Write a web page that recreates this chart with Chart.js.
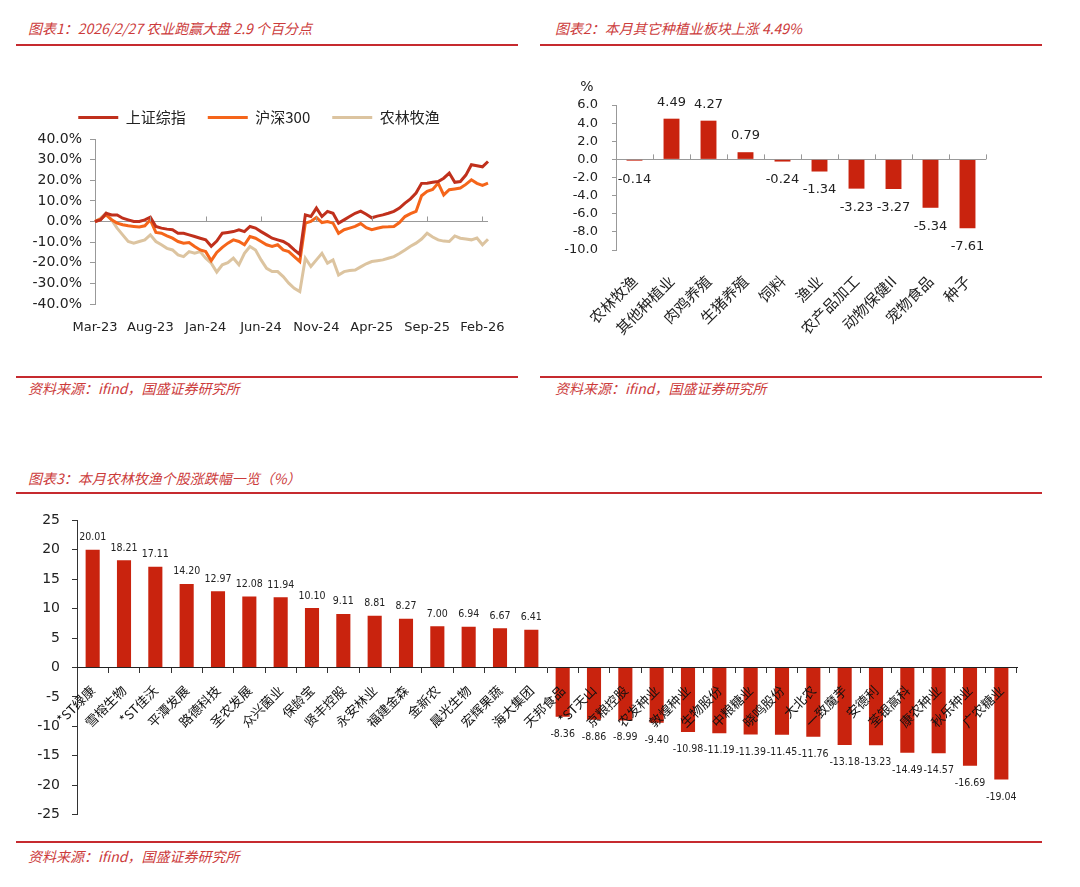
<!DOCTYPE html>
<html lang="zh-CN">
<head>
<meta charset="utf-8">
<title>农林牧渔月度图表</title>
<script src="https://cdn.jsdelivr.net/npm/chart.js@4.4.1/dist/chart.umd.min.js"></script>
<style>
  body { margin: 0; background: #fff; }
  #page { position: relative; width: 1080px; height: 887px; overflow: hidden; font-family: "Noto Sans CJK SC", sans-serif; }
  .cap { position: absolute; color: #cc3b3b; font-style: italic; font-size: 14px; line-height: 16px; white-space: nowrap; }
  .rule { position: absolute; height: 2px; background: #c62a2f; }
  .wrap { position: absolute; }
</style>
</head>
<body>
<div id="page">
  <div class="cap" style="left:28px;top:20px">图表1：2026/2/27 农业跑赢大盘 2.9 个百分点</div>
  <div class="rule" style="left:16px;top:44px;width:502px"></div>
  <div class="wrap" style="left:30px;top:88px"><canvas id="c1" width="505" height="252"></canvas></div>
  <div class="rule" style="left:16px;top:376px;width:502px"></div>
  <div class="cap" style="left:28px;top:380px">资料来源：ifind，国盛证券研究所</div>

  <div class="cap" style="left:555px;top:20px">图表2：本月其它种植业板块上涨 4.49%</div>
  <div class="rule" style="left:540px;top:44px;width:502px"></div>
  <div class="wrap" style="left:546px;top:70px"><canvas id="c2" width="450" height="290"></canvas></div>
  <div class="rule" style="left:540px;top:376px;width:502px"></div>
  <div class="cap" style="left:555px;top:380px">资料来源：ifind，国盛证券研究所</div>

  <div class="cap" style="left:28px;top:470px">图表3：本月农林牧渔个股涨跌幅一览（%）</div>
  <div class="rule" style="left:16px;top:492px;width:1026px"></div>
  <div class="wrap" style="left:20px;top:500px"><canvas id="c3" width="1020" height="335"></canvas></div>
  <div class="rule" style="left:16px;top:841px;width:1026px"></div>
  <div class="cap" style="left:28px;top:848px">资料来源：ifind，国盛证券研究所</div>
</div>

<script>
// ---- chart 1: cumulative return since Mar-23, half-month steps ----
const dates1 = ['Mar-23', 'Aug-23', 'Jan-24', 'Jun-24', 'Nov-24', 'Apr-25', 'Sep-25', 'Feb-26'];
const shComposite = [0, 0.8, 4.0, 3.2, 3.2, 1.6, 0.8, 0, 0, 0.8, 2.1, -2.4, -3.2, -3.7, -4.0, -5.7, -5.7, -6.5,
  -7.3, -8.1, -8.9, -12.0, -9.5, -5.7, -5.3, -4.9, -4.0, -4.9, -2.4, -3.2, -4.9, -6.5, -8.1, -8.9, -9.7, -11.3,
  -13.8, -16.0, 3.2, 2.4, 6.5, 2.4, 4.9, 4.0, -0.8, 0.8, 2.4, 4.0, 5.0, 3.5, 1.8, 2.6, 3.2, 4.0, 4.9, 6.5,
  8.9, 11.0, 13.8, 18.5, 18.6, 19.0, 19.4, 21.0, 23.5, 19.0, 19.4, 22.5, 27.5, 27.0, 26.5, 29.1];
const csi300 = [0, 1.1, 3.2, 0.8, -0.8, -1.6, -2.1, -2.4, -2.7, -2.1, 0.8, -5.3, -5.7, -7.0, -8.1, -9.7, -10.5, -10.2,
  -12.1, -13.8, -14.6, -19.0, -15.0, -12.5, -10.5, -8.9, -9.7, -11.3, -7.3, -8.1, -9.7, -11.3, -12.1, -11.3, -13.8, -14.6,
  -17.0, -19.4, -0.8, 0, 2.0, -0.5, 0, -0.8, -5.7, -4.0, -3.2, -2.4, -1.0, -3.0, -4.0, -3.3, -2.7, -2.6, -2.4, -0.5,
  2.4, 3.8, 4.9, 12.5, 14.6, 15.5, 18.6, 12.9, 15.4, 15.8, 16.2, 18.0, 20.2, 18.5, 17.5, 18.6];
const agriIndex = [0, 1.6, 4.0, 0.8, -3.2, -6.5, -9.7, -10.5, -9.7, -8.9, -6.5, -9.7, -11.3, -13.0, -13.8, -16.2, -17.0, -14.6,
  -15.4, -14.6, -17.8, -20.2, -24.5, -21.0, -20.0, -17.8, -21.0, -15.4, -12.1, -13.8, -18.6, -22.7, -24.3, -24.3, -26.7, -29.9,
  -32.4, -34.0, -17.8, -21.8, -18.6, -15.4, -20.2, -18.6, -25.9, -24.3, -23.8, -23.5, -22.0, -20.5, -19.4, -19.0, -18.6, -17.8, -17.0, -15.5,
  -13.8, -12.0, -10.5, -8.5, -5.7, -7.5, -8.9, -9.5, -9.7, -7.0, -8.1, -8.5, -8.9, -8.0, -11.3, -8.6];

// ---- chart 2: sub-sector monthly change ----
const sectors = ['农林牧渔', '其他种植业', '肉鸡养殖', '生猪养殖', '饲料', '渔业', '农产品加工', '动物保健II', '宠物食品', '种子'];
const sectorChg = [-0.14, 4.49, 4.27, 0.79, -0.24, -1.34, -3.23, -3.27, -5.34, -7.61];

// ---- chart 3: individual stocks ----
const stocks = ['*ST绿康', '雪榕生物', '*ST佳沃', '平潭发展', '路德科技', '圣农发展', '众兴菌业', '保龄宝', '贤丰控股', '永安林业',
  '福建金森', '金新农', '晨光生物', '宏辉果蔬', '海大集团', '天邦食品', '*ST天山', '京粮控股', '农发种业', '敦煌种业',
  '生物股份', '中粮糖业', '晓鸣股份', '大北农', '一致魔芋', '安德利', '荃银高科', '康农种业', '秋乐种业', '广农糖业'];
const stockChg = [20.01, 18.21, 17.11, 14.20, 12.97, 12.08, 11.94, 10.10, 9.11, 8.81, 8.27, 7.00, 6.94, 6.67, 6.41,
  -8.36, -8.86, -8.99, -9.40, -10.98, -11.19, -11.39, -11.45, -11.76, -13.18, -13.23, -14.49, -14.57, -16.69, -19.04];

const CJK = '"Noto Sans CJK SC", sans-serif';
const BAR_RED = '#c9230e';

Chart.defaults.font.family = '"DejaVu Sans", sans-serif';
Chart.defaults.color = '#222';
Chart.defaults.animation = false;

// value labels over / under each bar
const barLabels = {
  id: 'barLabels',
  afterDatasetsDraw(chart, args, opts) {
    if (!opts.font) return;
    const ctx = chart.ctx;
    const vals = chart.data.datasets[0].data;
    ctx.save();
    ctx.font = opts.font;
    ctx.fillStyle = opts.color;
    ctx.textAlign = 'center';
    chart.getDatasetMeta(0).data.forEach((bar, i) => {
      const v = vals[i];
      if (v >= 0) {
        ctx.textBaseline = 'bottom';
        ctx.fillText(v.toFixed(2), bar.x, bar.y - opts.up);
      } else {
        ctx.textBaseline = 'top';
        ctx.fillText(v.toFixed(2), bar.x, bar.y + opts.down);
      }
    });
    ctx.restore();
  }
};

// little marks standing on the zero line
const zeroTicks = {
  id: 'zeroTicks',
  afterDatasetsDraw(chart, args, opts) {
    if (!opts.at) return;
    const y0 = chart.scales.y.getPixelForValue(0);
    const ctx = chart.ctx;
    ctx.save();
    ctx.strokeStyle = opts.color;
    ctx.lineWidth = 1;
    opts.at(chart).forEach(px => {
      ctx.beginPath();
      ctx.moveTo(Math.round(px) + 0.5, y0);
      ctx.lineTo(Math.round(px) + 0.5, y0 - opts.len);
      ctx.stroke();
    });
    ctx.restore();
  }
};

// unit text above the y axis
const unitLabel = {
  id: 'unitLabel',
  afterDraw(chart, args, opts) {
    if (!opts.text) return;
    const {ctx, chartArea} = chart;
    ctx.save();
    ctx.font = opts.font;
    ctx.fillStyle = '#222';
    ctx.textAlign = 'center';
    ctx.textBaseline = 'middle';
    ctx.fillText(opts.text, chartArea.left + opts.dx, chartArea.top + opts.dy);
    ctx.restore();
  }
};

Chart.register(barLabels, zeroTicks, unitLabel);

// push the plot a bit further below the legend
const legendGap = {
  id: 'legendGap',
  beforeInit(chart) {
    const fit = chart.legend.fit;
    chart.legend.fit = function () {
      fit.call(this);
      this.height += 4;
    };
  }
};

const lineSet = (label, data, color) => ({
  label: label,
  data: data,
  borderColor: color,
  backgroundColor: color,
  borderWidth: 3,
  pointRadius: 0,
  tension: 0
});

new Chart(document.getElementById('c1'), {
  type: 'line',
  data: {
    labels: shComposite.map((v, i) => i),
    datasets: [
      lineSet('上证综指', shComposite, '#c0301c'),
      lineSet('沪深300', csi300, '#f5651a'),
      lineSet('农林牧渔', agriIndex, '#dcc4a0')
    ]
  },
  options: {
    responsive: false,
    layout: { padding: { right: 47 } },
    plugins: {
      legend: {
        labels: {
          usePointStyle: true,
          pointStyle: 'line',
          pointStyleWidth: 40,
          padding: 22,
          color: '#222',
          font: { family: CJK, size: 15 }
        }
      },
      tooltip: { enabled: false },
      zeroTicks: {
        color: '#999',
        len: 5,
        at: chart => [10, 20, 30, 40, 50, 60, 70].map(i => chart.scales.x.getPixelForValue(i))
      }
    },
    scales: {
      x: {
        grid: { display: false },
        border: { display: false },
        afterFit: s => { s.height = 36; },
        ticks: {
          autoSkip: false,
          maxRotation: 0,
          minRotation: 0,
          padding: 8,
          font: { size: 13 },
          callback: (v, i) => (i % 10 === 0 ? dates1[i / 10] : '')
        }
      },
      y: {
        min: -40,
        max: 40,
        afterFit: s => { s.width = 65; },
        border: { color: '#999' },
        grid: {
          color: c => (c.tick.value === 0 ? '#999' : 'rgba(0,0,0,0)'),
          tickColor: '#999',
          tickLength: 5
        },
        ticks: {
          autoSkip: false,
          stepSize: 10,
          padding: 8,
          font: { size: 14 },
          callback: v => v.toFixed(1) + '%'
        }
      }
    }
  },
  plugins: [legendGap]
});

new Chart(document.getElementById('c2'), {
  type: 'bar',
  data: {
    labels: sectors,
    datasets: [{
      data: sectorChg,
      backgroundColor: BAR_RED,
      barPercentage: 0.86,
      categoryPercentage: 0.5
    }]
  },
  options: {
    responsive: false,
    layout: { padding: { top: 35, right: 10 } },
    plugins: {
      legend: { display: false },
      tooltip: { enabled: false },
      barLabels: { font: '13px "DejaVu Sans"', color: '#222', up: 10, down: 12 },
      zeroTicks: {
        color: '#999',
        len: 5,
        at: chart => {
          const x = chart.scales.x;
          const step = x.width / sectors.length;
          return sectors.map((s, i) => x.left + step * (i + 1));
        }
      },
      unitLabel: { text: '%', font: '14px "DejaVu Sans"', dx: -29, dy: -18 }
    },
    scales: {
      x: {
        grid: { display: false },
        border: { display: false },
        afterFit: s => { s.height = 110; },
        ticks: {
          autoSkip: false,
          minRotation: 45,
          maxRotation: 45,
          padding: 14,
          color: '#222',
          font: { family: CJK, size: 15 }
        }
      },
      y: {
        min: -10,
        max: 6,
        afterFit: s => { s.width = 70; },
        border: { color: '#999' },
        grid: {
          color: c => (c.tick.value === 0 ? '#999' : 'rgba(0,0,0,0)'),
          tickColor: '#999',
          tickLength: 4
        },
        ticks: {
          autoSkip: false,
          stepSize: 2,
          padding: 14,
          font: { size: 13 },
          callback: v => v.toFixed(1)
        }
      }
    }
  }
});

new Chart(document.getElementById('c3'), {
  type: 'bar',
  data: {
    labels: stocks,
    datasets: [{
      data: stockChg,
      backgroundColor: BAR_RED,
      barPercentage: 0.9,
      categoryPercentage: 0.5
    }]
  },
  options: {
    responsive: false,
    layout: { padding: { top: 17, right: 23, bottom: 15 } },
    plugins: {
      legend: { display: false },
      tooltip: { enabled: false },
      barLabels: { font: '10.5px "DejaVu Sans Condensed"', color: '#222', up: 7, down: 12 }
    },
    scales: {
      x: {
        position: { y: 0 },
        border: { color: '#222', z: 1 },
        grid: { drawOnChartArea: false, tickLength: 5, color: '#333', z: 1 },
        ticks: {
          z: 1,
          autoSkip: false,
          minRotation: 45,
          maxRotation: 45,
          padding: 10,
          color: '#111',
          font: { family: CJK, size: 13 }
        }
      },
      y: {
        min: -25,
        max: 25,
        afterFit: s => { s.width = 57; },
        border: { color: '#333' },
        grid: { drawOnChartArea: false, tickLength: 5, color: '#333' },
        ticks: {
          autoSkip: false,
          stepSize: 5,
          padding: 12,
          font: { size: 14 }
        }
      }
    }
  }
});
</script>
</body>
</html>
